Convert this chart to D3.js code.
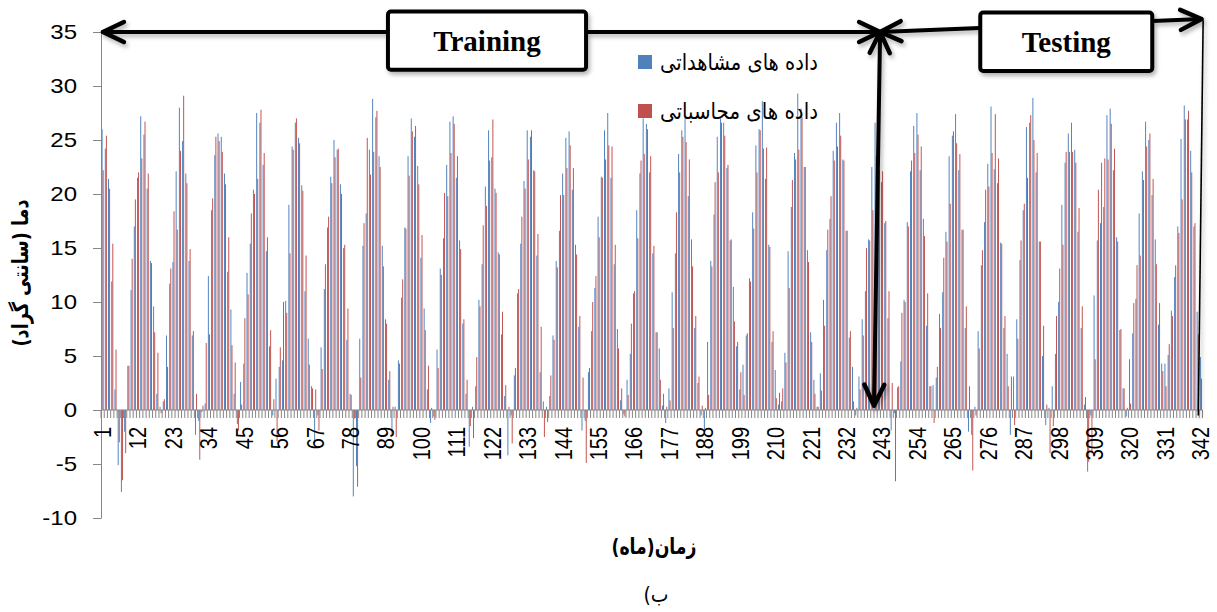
<!DOCTYPE html>
<html>
<head>
<meta charset="utf-8">
<script src="https://cdnjs.cloudflare.com/ajax/libs/d3/7.8.5/d3.min.js"></script>
<style>
  body { margin: 0; background: #fff; }
  svg { display: block; }
</style>
</head>
<body>
<div id="chart"></div>
<script>
const observed = [
  26.0, 24.2, 21.4, 11.9, 1.9, -5.1, -7.6, -2.0, 4.1, 11.1, 17.0, 21.5,
  27.2, 25.5, 20.5, 13.8, 9.6, 1.5, 0.3, 0.8, 6.9, 11.7, 13.7, 22.1,
  28.0, 24.9, 21.9, 13.8, 6.9, -2.3, -1.0, -0.2, 0.6, 12.4, 18.5, 23.6,
  25.6, 25.3, 21.9, 12.8, 9.3, 1.5, -1.3, 2.6, 4.3, 12.7, 15.4, 20.4,
  27.5, 26.6, 22.7, 14.7, 5.9, -0.5, 2.9, 4.0, 4.6, 10.1, 19.0, 24.4,
  26.6, 25.2, 20.8, 11.0, 6.6, 2.2, -3.2, -0.5, 5.8, 11.2, 16.9, 21.6,
  25.0, 24.1, 20.9, 15.0, 6.5, 1.5, -8.0, -5.2, 6.6, 15.2, 18.2, 24.1,
  28.8, 27.1, 23.5, 15.2, 8.4, 2.8, -2.2, 0.3, 4.6, 10.4, 16.9, 23.5,
  27.0, 25.3, 22.6, 14.1, 9.4, 1.9, -1.2, -0.6, 5.6, 13.1, 15.9, 22.7,
  26.7, 27.2, 21.5, 15.7, 8.0, 1.5, -3.4, 0.3, 2.2, 10.2, 13.5, 20.7,
  25.9, 23.4, 20.5, 14.6, 7.0, 1.3, -4.2, -0.5, 3.2, 10.8, 15.4, 21.2,
  25.9, 25.3, 22.2, 14.3, 3.5, 0.8, 0.3, 1.3, 6.9, 13.8, 16.6, 21.9,
  25.2, 25.8, 20.4, 15.3, 7.7, -1.9, -1.0, 3.5, 7.3, 11.3, 17.9, 21.6,
  25.9, 27.5, 21.5, 13.5, 7.5, 0.9, -0.4, 2.8, 5.2, 10.8, 18.5, 21.9,
  27.0, 26.5, 22.0, 14.5, 7.2, 5.7, 0.4, -1.2, 2.0, 10.9, 14.5, 23.7,
  25.9, 27.0, 19.8, 15.8, 7.6, 2.5, -0.5, -1.9, 6.3, 13.8, 18.1, 25.3,
  27.0, 26.6, 22.4, 15.7, 11.4, 5.9, 1.9, 4.2, 6.9, 12.2, 18.3, 24.5,
  26.0, 28.6, 21.4, 15.3, 6.3, 3.7, 0.5, 0.8, 5.3, 14.7, 18.8, 23.8,
  29.3, 27.9, 22.5, 14.8, 7.2, 2.8, 0.3, 3.4, 10.2, 14.8, 17.7, 24.0,
  26.6, 27.5, 23.2, 16.6, 6.7, 4.0, -0.5, 3.1, 8.4, 11.0, 15.8, 22.5,
  26.6, 23.5, 21.1, 17.3, 8.5, -1.9, -0.3, 2.1, 4.5, 10.2, 17.4, 22.1,
  26.3, 27.5, 22.2, 17.7, 7.8, 2.2, 2.3, 3.0, 8.9, 10.9, 16.5, 23.5,
  25.4, 27.4, 22.2, 16.7, 7.6, -2.0, -2.3, 0.3, 7.3, 13.4, 17.4, 22.8,
  28.1, 22.3, 21.0, 15.5, 7.6, 5.2, -2.3, 3.1, 8.4, 13.9, 18.5, 26.2,
  26.6, 28.9, 22.0, 15.6, 5.0, -1.4, 0.2, 2.2, 5.2, 10.0, 19.0, 22.9,
  25.6, 26.6, 24.1, 16.5, 7.6, 0.5, -5.7, -0.5, 10.6, 15.7, 17.3, 18.8,
  27.3, 27.9, 22.2, 16.0, 7.4, 2.0, -0.6, 4.7, 7.1, 10.3, 18.2, 22.1,
  26.7, 25.0, 19.9, 15.8, 7.9, 4.3, 4.3, 5.1, 9.2, 12.3, 17.0, 25.1,
  28.2, 26.9, 24.0, 17.0, 9.1, 4.9
];

const computed = [
  22.2, 25.4, 20.5, 15.4, 5.6, -3.0, -6.5, -4.0, 4.1, 14.0, 19.5, 22.0,
  23.3, 26.7, 21.9, 13.6, 7.2, 5.3, -0.3, 1.0, 4.0, 13.1, 18.4, 16.7,
  24.0, 29.1, 21.0, 14.9, 7.3, 1.5, -4.6, 0.4, 6.2, 7.0, 19.6, 25.3,
  24.9, 23.9, 20.9, 16.0, 6.0, 4.4, -1.9, 0.5, 8.5, 10.7, 18.2, 20.0,
  21.4, 27.8, 23.8, 16.0, 7.4, 1.0, -2.9, 5.8, 10.0, 9.0, 14.5, 24.1,
  27.0, 24.7, 20.3, 14.3, 4.2, 2.0, 1.9, -1.9, 3.8, 13.5, 17.9, 21.0,
  23.4, 24.2, 20.0, 15.3, 9.4, 1.4, -0.8, -7.1, 3.0, 17.3, 25.2, 21.8,
  23.9, 27.7, 22.5, 13.3, 8.0, 3.6, 0.3, -2.5, 4.3, 12.1, 16.8, 21.7,
  25.8, 26.3, 20.9, 16.2, 7.4, 4.1, 0.2, -0.9, 3.9, 12.5, 20.1, 19.8,
  23.8, 26.5, 23.5, 14.9, 8.4, 2.8, -1.5, -2.6, 4.9, 9.6, 17.1, 18.9,
  23.1, 26.9, 20.1, 14.4, 9.1, 2.3, 0.3, -3.1, 3.9, 11.2, 17.9, 20.5,
  23.2, 25.9, 22.1, 16.3, 7.7, -2.5, -1.1, 3.2, 6.5, 13.2, 19.9, 19.9,
  22.4, 24.5, 22.4, 14.4, 8.7, 3.0, -4.9, 3.9, 10.0, 12.4, 16.0, 21.5,
  23.2, 24.5, 24.4, 15.3, 5.7, 2.0, -0.6, 1.4, 8.0, 11.0, 15.9, 23.1,
  23.7, 26.0, 23.5, 15.2, 7.2, 2.8, 1.5, 0.3, 0.9, 7.6, 18.3, 22.0,
  25.3, 24.8, 23.2, 13.3, 8.7, 3.1, 0.4, 0.2, 1.4, 13.3, 21.1, 22.0,
  26.6, 25.4, 22.7, 15.8, 8.2, 6.3, 3.5, 1.4, 7.1, 11.9, 16.8, 22.0,
  25.9, 24.2, 24.3, 15.1, 7.3, 1.1, 1.6, 2.0, 4.4, 11.3, 21.3, 23.2,
  24.1, 27.1, 22.5, 13.7, 6.3, 1.5, 0.3, 1.8, 7.8, 16.7, 19.8, 23.1,
  24.4, 25.4, 23.1, 16.6, 7.3, 0.8, 0.2, 1.9, 6.9, 15.0, 15.7, 18.5,
  23.5, 22.2, 22.1, 17.5, 11.0, 2.5, -6.6, 2.2, 9.0, 10.0, 17.0, 23.1,
  23.8, 25.5, 24.4, 16.1, 10.8, 2.2, -1.2, 4.0, 7.6, 14.1, 15.6, 19.1,
  25.8, 24.7, 23.7, 16.7, 9.6, 2.2, -5.6, -0.5, 5.7, 14.8, 20.4, 20.7,
  23.8, 27.4, 23.3, 15.4, 8.7, 2.2, 3.1, -1.4, 6.6, 15.7, 19.1, 21.5,
  27.3, 25.0, 23.8, 15.6, 7.8, 0.5, -4.0, -1.5, 8.7, 13.1, 15.3, 23.9,
  23.9, 23.9, 22.9, 18.7, 9.6, 1.2, -4.8, -4.0, 4.7, 20.4, 22.9, 23.3,
  23.2, 26.5, 24.2, 15.6, 7.5, 2.0, 0.2, 0.6, 9.9, 13.4, 14.3, 21.3,
  24.4, 25.6, 21.4, 13.5, 9.9, 3.6, 2.2, 6.1, 8.7, 13.4, 16.4, 19.5,
  26.9, 27.7, 22.0, 17.3, 7.0, 2.9
];

const months = d3.range(1, observed.length + 1);           // 1..342
const xTickLabels = months.filter((m, i) => i % 11 === 0); // 1, 12, 23 ... 342
const yTicks = [-10, -5, 0, 5, 10, 15, 20, 25, 30, 35];
const seriesNames = ["داده های مشاهداتی", "داده های محاسباتی"];
const seriesColors = ["#4F81BD", "#C0504D"];

const W = 1217, H = 612;
const plotLeft = 101, plotRight = 1202.5, plotTop = 32, plotBottom = 518;

const svg = d3.select("#chart").append("svg")
  .attr("width", W)
  .attr("height", H);

// soft shadow used by the arrows and the boxes
const defs = svg.append("defs");
defs.append("filter").attr("id", "shadow")
  .attr("x", "-20%").attr("y", "-20%").attr("width", "140%").attr("height", "140%")
  .append("feDropShadow")
  .attr("dx", 2).attr("dy", 3).attr("stdDeviation", 2)
  .attr("flood-color", "#000").attr("flood-opacity", 0.3);

// scales
const x0 = d3.scaleBand().domain(months).range([plotLeft, plotRight])
  .paddingInner(0.3).paddingOuter(0.15);
const x1 = d3.scaleBand().domain([0, 1]).range([0, x0.bandwidth()]).padding(0.1);
const y = d3.scaleLinear().domain([-10, 35]).range([plotBottom, plotTop]);
// category units, for the annotation overlay
const xc = d3.scaleLinear().domain([0, months.length]).range([plotLeft, plotRight]);

// bars
const rows = months.map((m, i) => ({ m, vals: [observed[i], computed[i]] }));
const groups = svg.append("g").selectAll("g")
  .data(rows)
  .join("g")
  .attr("transform", d => `translate(${x0(d.m)},0)`);

groups.selectAll("rect")
  .data(d => d.vals.map((v, k) => ({ k, v })))
  .join("rect")
  .attr("x", d => x1(d.k))
  .attr("width", x1.bandwidth())
  .attr("y", d => y(Math.max(0, d.v)))
  .attr("height", d => Math.abs(y(d.v) - y(0)))
  .attr("fill", d => seriesColors[d.k]);

// y axis
const yAxis = svg.append("g")
  .attr("transform", `translate(${plotLeft},0)`)
  .call(d3.axisLeft(y).tickValues(yTicks).tickFormat(d => String(d))
    .tickSize(8).tickSizeOuter(0).tickPadding(12));
yAxis.select(".domain").attr("stroke", "#868686");
yAxis.selectAll(".tick line").attr("stroke", "#868686");
yAxis.selectAll(".tick text")
  .attr("font-family", "Liberation Sans, Arial, sans-serif")
  .attr("font-size", 20)
  .attr("fill", "#000")
  .attr("transform", "scale(1.2,1)");

// x axis: line at zero with a tick between every month
const y0 = y(0);
svg.append("g").selectAll("line")
  .data(d3.range(months.length + 1))
  .join("line")
  .attr("x1", i => plotLeft + i * x0.step())
  .attr("x2", i => plotLeft + i * x0.step())
  .attr("y1", y0)
  .attr("y2", y0 + 8)
  .attr("stroke", "#868686")
  .attr("stroke-width", 1);
svg.append("line")
  .attr("x1", plotLeft).attr("x2", plotRight)
  .attr("y1", y0).attr("y2", y0)
  .attr("stroke", "#868686").attr("stroke-width", 1);

svg.append("g").selectAll("text")
  .data(xTickLabels)
  .join("text")
  .attr("transform", m => `translate(${x0(m) + x0.bandwidth() / 2},${y0 + 17}) scale(1.2,1) rotate(-90)`)
  .attr("text-anchor", "end")
  .attr("dy", "0.35em")
  .attr("font-family", "Liberation Sans, Arial, sans-serif")
  .attr("font-size", 20)
  .attr("fill", "#000")
  .text(m => m);

// helper: squeeze / stretch a text horizontally to a target width
function fit(sel, target) {
  const w = sel.node().getComputedTextLength();
  return w > 0 ? target / w : 1;
}

function persianText(cx, cy, str, size, bold, target, rotate) {
  const t = svg.append("text")
    .attr("text-anchor", "middle")
    .attr("direction", "rtl")
    .attr("dy", "0.35em")
    .attr("font-family", "DejaVu Sans, sans-serif")
    .attr("font-size", size)
    .attr("font-weight", bold ? "bold" : "normal")
    .attr("fill", "#000")
    .text(str);
  const s = fit(t, target);
  t.attr("transform", `translate(${cx},${cy})${rotate ? " rotate(-90)" : ""} scale(${s},1)`);
  return t;
}

// axis titles and caption
persianText(20, 273, "دما (سانتی گراد)", 22, true, 147, true);
persianText(654, 546, "زمان(ماه)", 22, true, 85, false);
persianText(656, 594, "ب)", 22, false, 25, false);

// legend
const legendY = [62, 111];
seriesNames.forEach((name, k) => {
  svg.append("rect")
    .attr("x", 638).attr("y", legendY[k] - 7)
    .attr("width", 14).attr("height", 14)
    .attr("fill", seriesColors[k]);
  persianText(739, legendY[k], name, 23, false, 158, false);
});

// annotations: training / testing spans
const ann = svg.append("g").attr("filter", "url(#shadow)");
const split = 241.9;

function arrowLine(p, q, w) {
  ann.append("line")
    .attr("x1", p[0]).attr("y1", p[1]).attr("x2", q[0]).attr("y2", q[1])
    .attr("stroke", "#000").attr("stroke-width", w).attr("stroke-linecap", "round");
}
// open chevron head at tip, pointing away from "from"
function head(tip, from, len, spread) {
  const dx = tip[0] - from[0], dy = tip[1] - from[1];
  const L = Math.hypot(dx, dy), ux = dx / L, uy = dy / L;
  const bx = tip[0] - ux * len, by = tip[1] - uy * len;
  const a = [bx - uy * spread, by + ux * spread];
  const b = [bx + uy * spread, by - ux * spread];
  ann.append("path")
    .attr("d", `M${a[0]},${a[1]}L${tip[0]},${tip[1]}L${b[0]},${b[1]}`)
    .attr("fill", "none").attr("stroke", "#000").attr("stroke-width", 4.5)
    .attr("stroke-linecap", "round").attr("stroke-linejoin", "round");
}

const trainL = [xc(0.6), y(35)];
const splitTop = [xc(split), y(35)];
const splitBot = [xc(240.0), y(0.4)];
const testR = [xc(341.7), y(36.2)];

arrowLine(trainL, splitTop, 4);
head(trainL, splitTop, 21, 10);
head(splitTop, trainL, 21, 10);

arrowLine(splitTop, splitBot, 4);
head(splitTop, splitBot, 21, 10);
head(splitBot, splitTop, 21, 10);

arrowLine(splitTop, testR, 4);
head(splitTop, testR, 21, 10);
head(testR, splitTop, 21, 10);

// thin marker at the end of the testing period
ann.append("line")
  .attr("x1", xc(342.2)).attr("y1", y(36.1))
  .attr("x2", xc(340.7)).attr("y2", y(-0.5))
  .attr("stroke", "#000").attr("stroke-width", 1.6);

// labelled boxes
const boxes = [
  { label: "Training", x0: 89.1, x1: 150.6, yTop: 36.9, yBot: 31.5 },
  { label: "Testing",  x0: 273.0, x1: 326.4, yTop: 36.8, yBot: 31.4 }
];
boxes.forEach(b => {
  ann.append("rect")
    .attr("x", xc(b.x0)).attr("y", y(b.yTop))
    .attr("width", xc(b.x1) - xc(b.x0))
    .attr("height", y(b.yBot) - y(b.yTop))
    .attr("rx", 3)
    .attr("fill", "#fff").attr("stroke", "#000").attr("stroke-width", 4);
  svg.append("text")
    .attr("x", (xc(b.x0) + xc(b.x1)) / 2)
    .attr("y", (y(b.yTop) + y(b.yBot)) / 2)
    .attr("dy", "0.35em")
    .attr("text-anchor", "middle")
    .attr("font-family", "Liberation Serif, Times New Roman, serif")
    .attr("font-weight", "bold")
    .attr("font-size", 29)
    .attr("fill", "#000")
    .text(b.label);
});
</script>
</body>
</html>
